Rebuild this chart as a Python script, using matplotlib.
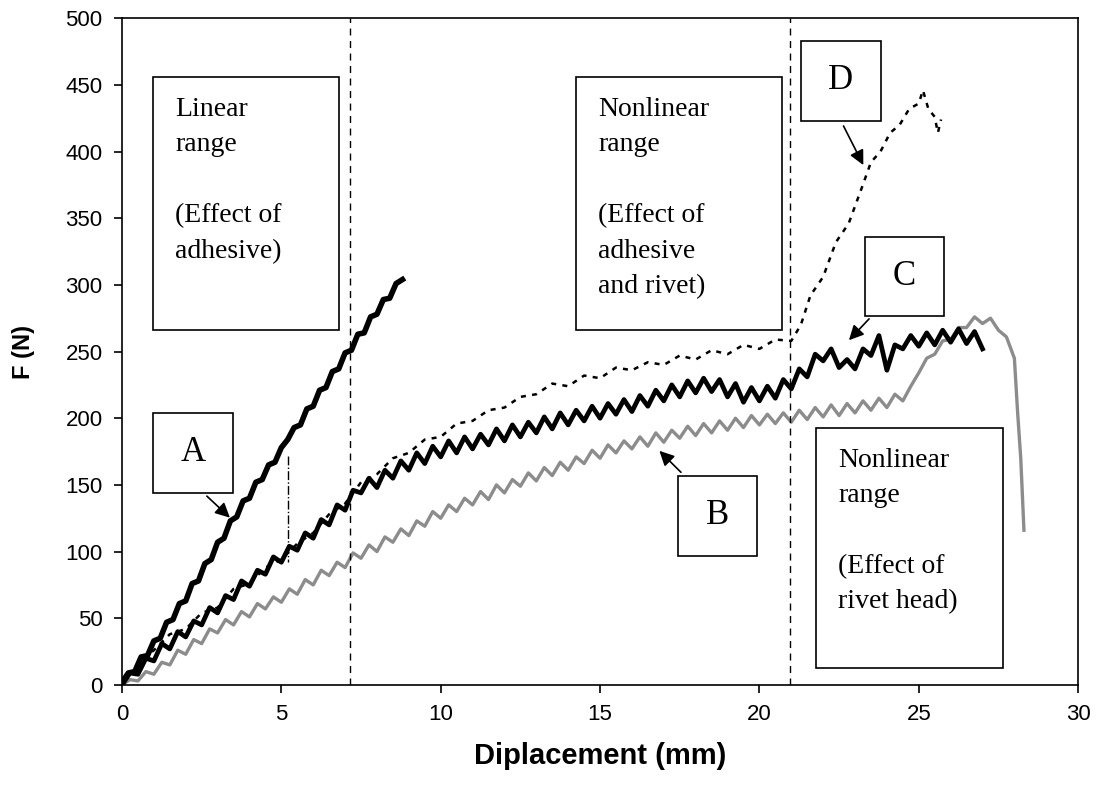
import numpy as np
import matplotlib.pyplot as plt
from matplotlib.patches import Rectangle

# Curve A (black, linear)
A_x = np.arange(0, 8.81, 0.2)
A_y = [2, 9, 10, 21, 22, 33, 35, 47, 49, 61,
       63, 76, 78, 91, 94, 107, 110, 123, 126, 138,
       140, 152, 154, 165, 167, 178, 184, 193, 195, 207,
       209, 221, 223, 235, 237, 249, 251, 263, 264, 276,
       278, 289, 290, 301, 304]
A_drop_x = [5.2, 5.2]
A_drop_y = [172, 92]

# Curve C (black, noisy)
C_x = np.arange(0, 27.01, 0.25)
C_y = [0, 9, 8, 20, 18, 31, 27, 40, 36, 48,
       45, 58, 54, 67, 64, 78, 74, 86, 83, 96,
       92, 104, 101, 114, 110, 124, 120, 135, 131, 146,
       144, 155, 148, 161, 155, 168, 161, 174, 166, 179,
       171, 183, 174, 186, 177, 188, 180, 192, 183, 195,
       186, 197, 189, 201, 192, 204, 195, 206, 198, 209,
       200, 211, 203, 214, 205, 217, 209, 221, 213, 225,
       216, 228, 219, 230, 220, 229, 216, 226, 212, 223,
       213, 224, 215, 229, 222, 237, 231, 248, 243, 252,
       238, 244, 237, 252, 247, 262, 236, 255, 252, 262,
       254, 264, 255, 266, 257, 267, 256, 265, 252]

# Curve D (black dotted)
D_x = list(np.arange(0, 21.01, 0.5)) + [21.3, 21.6, 22.0, 22.4, 22.8, 23.2, 23.5, 23.8,
                                       24.1, 24.4, 24.7, 25.0, 25.13, 25.3, 25.5, 25.6, 25.7]
D_y = [0, 16, 26, 38, 42, 54, 58, 72, 76, 88,
       94, 106, 114, 128, 136, 152, 158, 170, 174, 184,
       186, 196, 198, 206, 208, 216, 218, 226, 224, 232,
       230, 238, 236, 242, 240, 247, 244, 251, 248, 255,
       252, 259, 258,
       270, 292, 306, 332, 346, 372, 392, 400, 414, 420, 432, 436, 446, 432, 426, 414, 424]

# Curve B (grey)
B_x = list(np.arange(0, 27.76, 0.25)) + [28.0, 28.1, 28.2, 28.3]
B_y = [0, 4, 3, 10, 8, 17, 15, 26, 23, 34,
       31, 42, 39, 49, 45, 55, 51, 61, 57, 66,
       62, 72, 68, 79, 75, 86, 82, 92, 88, 99,
       95, 105, 100, 111, 107, 117, 112, 123, 119, 130,
       125, 135, 130, 140, 135, 145, 139, 150, 144, 154,
       149, 159, 153, 163, 157, 167, 161, 171, 166, 176,
       170, 180, 174, 183, 177, 186, 179, 189, 182, 191,
       185, 194, 187, 196, 189, 198, 191, 200, 193, 202,
       195, 203, 196, 204, 197, 206, 199, 208, 201, 210,
       202, 211, 204, 213, 206, 215, 208, 218, 213, 224,
       234, 245, 248, 258, 259, 268, 268, 276, 271, 275,
       266, 261,
       245, 205, 170, 116]

range_lines = [7.15, 20.95]

fig = plt.figure(figsize=(10.99, 7.90), dpi=100)
ax = fig.add_axes([0.111, 0.133, 0.870, 0.844])

ax.plot(B_x, B_y, color='#8c8c8c', lw=2.4)
ax.plot(C_x, C_y, color='black', lw=3.4)
ax.plot(D_x, D_y, color='black', lw=1.8, linestyle=(0, (2, 2.5)))
ax.plot(A_x, A_y, color='black', lw=4)
ax.plot(A_drop_x, A_drop_y, color='black', lw=1, linestyle='-.')

for xv in range_lines:
    ax.axvline(xv, color='black', lw=1, linestyle=(0, (5, 4)))

serif = 'Liberation Serif'

# range boxes
def range_box(x0, y0, x1, y1, text):
    ax.add_patch(Rectangle((x0, y0), x1 - x0, y1 - y0, fill=False, ec='black', lw=1.2, zorder=5))
    ax.text(x0 + 0.7, y1 - 15, text, family=serif, fontsize=20, va='top', ha='left',
            linespacing=1.55, zorder=6)

range_box(0.97, 266, 6.81, 456, 'Linear\nrange\n\n(Effect of\nadhesive)')
range_box(14.25, 266, 20.7, 456, 'Nonlinear\nrange\n\n(Effect of\nadhesive\nand rivet)')
range_box(21.78, 13, 27.64, 193, 'Nonlinear\nrange\n\n(Effect of\nrivet head)')

# label boxes with arrows
def label_box(x0, y0, x1, y1, letter, start, end):
    ax.add_patch(Rectangle((x0, y0), x1 - x0, y1 - y0, fc='white', ec='black', lw=1.2, zorder=5))
    ax.text((x0 + x1) / 2, (y0 + y1) / 2, letter, family=serif, fontsize=25,
            ha='center', va='center', zorder=6)
    ax.annotate('', xy=end, xytext=start,
                arrowprops=dict(arrowstyle='-|>', color='black', lw=1.2, mutation_scale=22),
                zorder=6)

label_box(0.97, 144, 3.48, 204, 'A', (2.6, 143), (3.45, 124))
label_box(17.45, 97, 19.92, 157, 'B', (17.6, 158), (16.8, 177))
label_box(23.3, 277, 25.8, 336, 'C', (23.5, 276), (22.75, 257))
label_box(21.3, 423, 23.8, 483, 'D', (22.6, 421), (23.3, 388))

ax.set_xlim(0, 30)
ax.set_ylim(0, 500)
ax.set_xticks(range(0, 31, 5))
ax.set_yticks(range(0, 501, 50))
ax.tick_params(direction='out', length=6, width=1.2, labelsize=16, pad=8)
for lab in ax.get_xticklabels() + ax.get_yticklabels():
    lab.set_family('Liberation Sans')
for s in ax.spines.values():
    s.set_linewidth(1.2)

ax.set_xlabel('Diplacement (mm)', family='Liberation Sans', fontsize=21, fontweight='bold', labelpad=12)
ax.set_ylabel('F (N)', family='Liberation Sans', fontsize=17, fontweight='bold', labelpad=22)

plt.savefig('out.png', dpi=100)
